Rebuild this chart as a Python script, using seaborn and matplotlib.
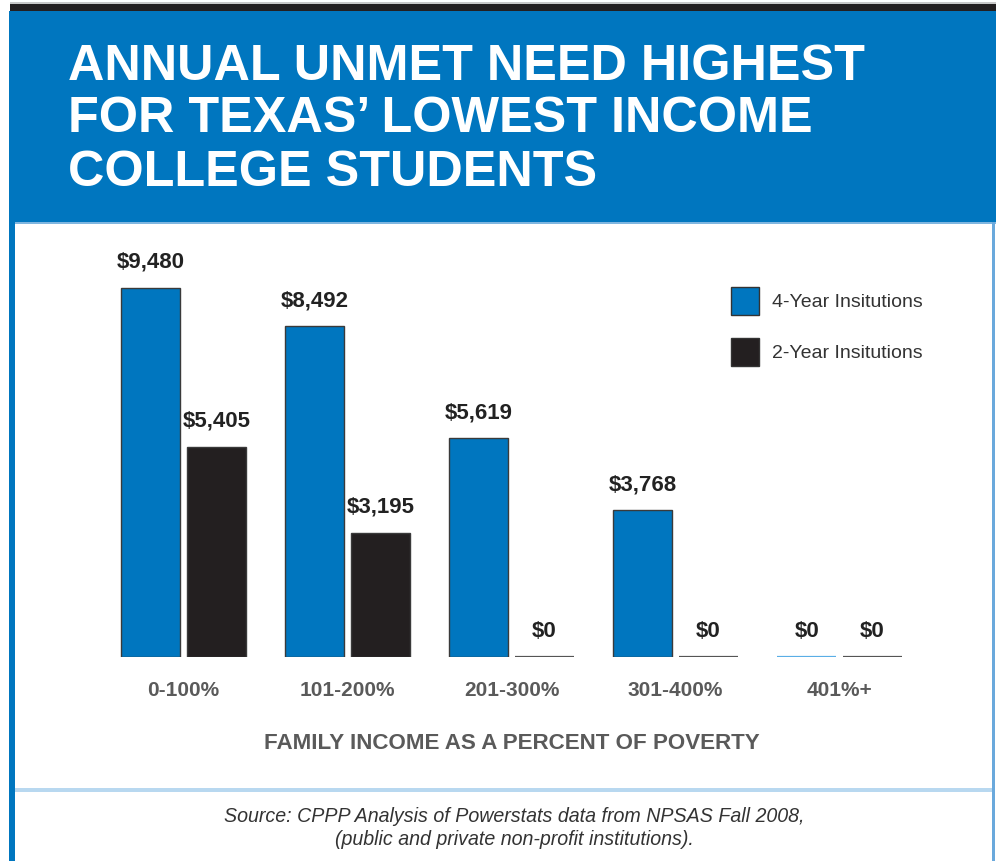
import matplotlib
matplotlib.use("Agg")
import matplotlib.pyplot as plt
from matplotlib.patches import Rectangle, Patch
import seaborn as sns
import pandas as pd

# ---- data ----
income_bands = ["0-100%", "101-200%", "201-300%", "301-400%", "401%+"]
four_year = [9480, 8492, 5619, 3768, 0]
two_year = [5405, 3195, 0, 0, 0]
series_names = ["4-Year Insitutions", "2-Year Insitutions"]

title_lines = ["ANNUAL UNMET NEED HIGHEST",
               "FOR TEXAS\u2019 LOWEST INCOME",
               "COLLEGE STUDENTS"]
x_title = "FAMILY INCOME AS A PERCENT OF POVERTY"
source_lines = ["Source: CPPP Analysis of Powerstats data from NPSAS Fall 2008,",
                "(public and private non-profit institutions)."]

df = pd.DataFrame({
    "Income": income_bands * 2,
    "Type": [series_names[0]] * len(income_bands) + [series_names[1]] * len(income_bands),
    "Need": four_year + two_year,
})

BLUE = "#0076BF"
BLACK = "#231F20"
GRAY = "#5a5a5a"
FONT = "Liberation Sans"

sns.set_theme(style="white")
plt.rcParams["font.family"] = [FONT, "DejaVu Sans"]

W, H = 996, 861
fig = plt.figure(figsize=(W / 100, H / 100), dpi=100)
fig.patch.set_facecolor("white")


def fx(px):
    return px / W


def fy(py):
    return 1 - py / H


def frame_rect(x0, y0, x1, y1, color):
    fig.patches.append(Rectangle((fx(x0), fy(y1)), fx(x1) - fx(x0), fy(y0) - fy(y1),
                                 transform=fig.transFigure, facecolor=color,
                                 edgecolor="none", zorder=0))


# page frame: dark strip, blue header band, borders and divider
frame_rect(10, 2, W, 4, "#c8c8c8")
frame_rect(10, 4, W, 11, BLACK)
frame_rect(10, 11, W, 222, BLUE)
frame_rect(10, 222, W, 224, "#7fb6e0")
frame_rect(9, 11, 15, H, BLUE)
frame_rect(992, 222, 995, H, "#6aa9dc")
frame_rect(15, 788, 992, 792, "#b8d8f0")


def fit_width(txt, target_px):
    r = fig.canvas.get_renderer()
    w = txt.get_window_extent(r).width
    txt.set_fontsize(txt.get_fontsize() * target_px / w)


# header title
baselines = [80, 132, 186]
t0 = fig.text(fx(68), fy(baselines[0]), title_lines[0], color="white",
              fontsize=36, fontweight="bold", ha="left", va="baseline")
fit_width(t0, 798)
for line, b in zip(title_lines[1:], baselines[1:]):
    fig.text(fx(68), fy(b), line, color="white", fontsize=t0.get_fontsize(),
             fontweight="bold", ha="left", va="baseline")

# bar chart
ax = fig.add_axes([fx(101.5), fy(657), fx(921.5) - fx(101.5), fy(657 - 11000 * 0.03892) - fy(657)])
ax.set_facecolor("none")
sns.barplot(data=df, x="Income", y="Need", hue="Type", palette=[BLUE, BLACK],
            gap=0.1, width=0.8, edgecolor="#3a3a3a", linewidth=1.0,
            legend=False, ax=ax, saturation=1)
ax.set_ylim(0, 11000)
ax.set_xlim(-0.5, len(income_bands) - 0.5)

# zero-height bars show as a thin line at the baseline
zero_colors = ["#5aaee6", "#555555"]
for cont, zc in zip(ax.containers, zero_colors):
    for bar in cont:
        if bar.get_height() == 0:
            bar.set_edgecolor(zc)
            bar.set_linewidth(1.6)

for cont, vals in zip(ax.containers, [four_year, two_year]):
    ax.bar_label(cont, labels=[f"${v:,.0f}" for v in vals], padding=11,
                 fontsize=16, fontweight="bold", color="#222222")

for s in ax.spines.values():
    s.set_visible(False)
ax.set_yticks([])
ax.set_ylabel("")
ax.tick_params(axis="x", length=0, pad=17, labelsize=15, labelcolor=GRAY)
for lab in ax.get_xticklabels():
    lab.set_fontweight("bold")
ax.set_xlabel(x_title, fontsize=14, fontweight="bold", color=GRAY, labelpad=24)
fit_width(ax.xaxis.label, 497)

# legend
handles = [Patch(facecolor=BLUE, edgecolor="#333333", linewidth=1),
           Patch(facecolor=BLACK, edgecolor="#333333", linewidth=1)]
fig.legend(handles, series_names, loc="upper left",
           bbox_to_anchor=(fx(731), fy(287)), bbox_transform=fig.transFigure,
           frameon=False, fontsize=14, handlelength=1.43, handleheight=1.84,
           handletextpad=0.7, labelspacing=1.18, borderpad=0, borderaxespad=0,
           labelcolor="#333333")

# source note
s0 = fig.text(fx(514), fy(822), source_lines[0], fontsize=13, style="italic",
              color="#333333", ha="center", va="baseline")
fit_width(s0, 577)
fig.text(fx(514), fy(845), source_lines[1], fontsize=s0.get_fontsize(),
         style="italic", color="#333333", ha="center", va="baseline")

fig.savefig("out.png", dpi=100, facecolor="white")
